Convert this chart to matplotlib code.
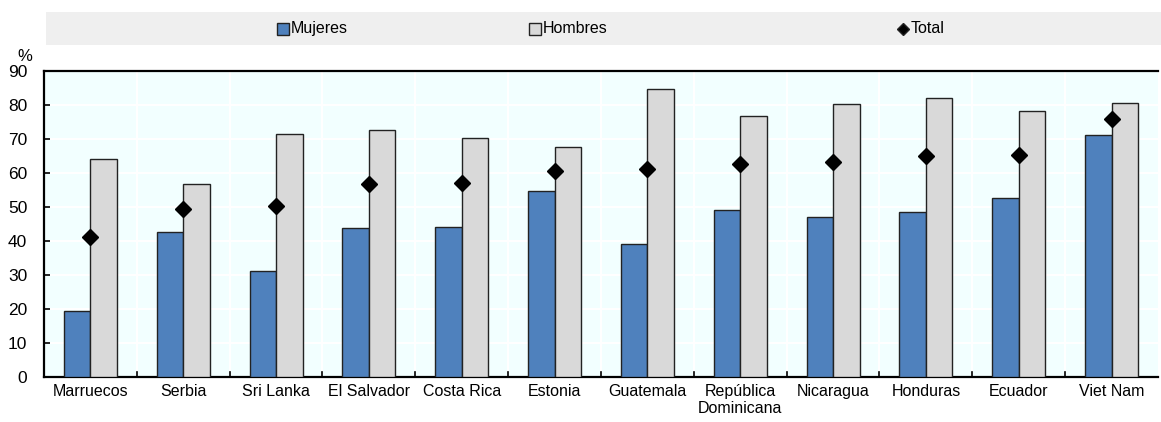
import numpy as np
import matplotlib.pyplot as plt
from matplotlib.patches import Rectangle
from matplotlib.lines import Line2D

plt.rcParams['font.family'] = ['Liberation Sans', 'DejaVu Sans']

paises = ['Marruecos', 'Serbia', 'Sri Lanka', 'El Salvador', 'Costa Rica', 'Estonia',
          'Guatemala', 'República\nDominicana', 'Nicaragua', 'Honduras', 'Ecuador', 'Viet Nam']
mujeres = [19.4, 42.5, 31.3, 43.7, 44.2, 54.7, 39.2, 49.1, 47.2, 48.6, 52.6, 71.3]
hombres = [64.1, 56.8, 71.5, 72.6, 70.2, 67.7, 84.7, 76.7, 80.4, 82.1, 78.1, 80.5]
total = [41.2, 49.5, 50.2, 56.8, 57.1, 60.7, 61.2, 62.7, 63.3, 65.1, 65.3, 75.9]

azul = '#4f81bd'
gris = '#d9d9d9'

fig = plt.figure(figsize=(11.61, 4.22), dpi=100)
ax = fig.add_axes([0.0379, 0.1066, 0.9595, 0.7252])
ax.set_facecolor('#f2ffff')

x = np.arange(len(paises))
w = 0.285
ax.bar(x - w / 2, mujeres, w, color=azul, edgecolor='#222222', linewidth=1.0, zorder=3)
ax.bar(x + w / 2, hombres, w, color=gris, edgecolor='#222222', linewidth=1.0, zorder=3)
ax.plot(x, total, linestyle='none', marker='D', markersize=8.5, color='black', zorder=4)

ax.set_xlim(-0.5, len(paises) - 0.5)
ax.set_ylim(0, 90)
ax.set_yticks(np.arange(0, 91, 10))
ax.set_xticks(x)
ax.set_xticklabels(paises, fontsize=11.5)
ax.tick_params(axis='x', length=0, pad=5)
ax.tick_params(axis='y', direction='in', length=4, width=1.2, labelsize=12.5, pad=12)

# cuadrícula blanca entre categorías
for b in np.arange(0.5, len(paises) - 0.5, 1):
    ax.axvline(b, color='white', linewidth=1.5, zorder=1)
    ax.plot([b, b], [0, 1.6], color='black', linewidth=1.2, zorder=5, clip_on=False)
for t in np.arange(10, 90, 10):
    ax.axhline(t, color='white', linewidth=1.5, zorder=1)

for s in ['left', 'bottom', 'top']:
    ax.spines[s].set_linewidth(1.6)
    ax.spines[s].set_color('black')
ax.spines['right'].set_visible(False)

fig.text(0.0215, 0.866, '%', fontsize=12, ha='center', va='center')

# leyenda superior
fig.patches.append(Rectangle((46 / 1161, 1 - 45 / 422), 1115 / 1161, 33 / 422,
                             transform=fig.transFigure, facecolor='#efefef',
                             edgecolor='none', zorder=0))
ly = 1 - 28.5 / 422
leg = [(283, 's', azul, 'Mujeres'), (535, 's', gris, 'Hombres'), (903, 'D', 'black', 'Total')]
for px, mk, col, txt in leg:
    ms = 8 if mk == 's' else 6.5
    fig.add_artist(Line2D([px / 1161], [ly], marker=mk, markersize=ms, color=col,
                          markeredgecolor='#222222', markeredgewidth=1.0, linestyle='none',
                          transform=fig.transFigure))
    fig.text((px + 8) / 1161, ly, txt, fontsize=11.5, va='center', ha='left')

fig.savefig('out.png', dpi=100)
